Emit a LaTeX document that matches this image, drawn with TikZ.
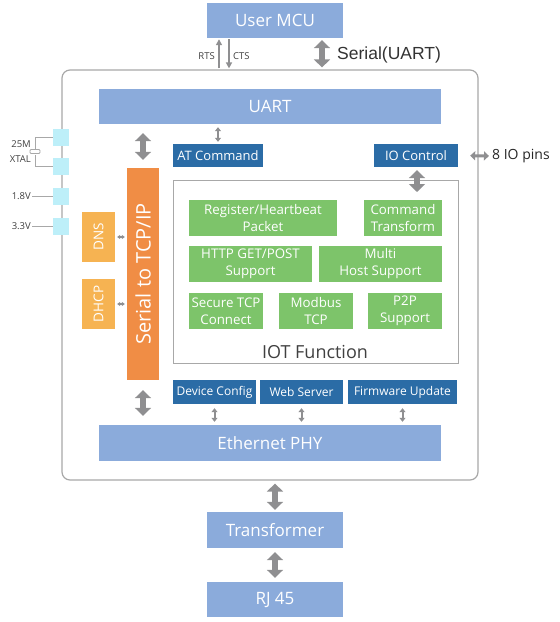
\documentclass[tikz,border=0pt]{standalone}
\usepackage{fontspec}
\setmainfont{Open Sans}
\newfontfamily\arialfont{Liberation Sans}
\usetikzlibrary{arrows.meta}

\definecolor{barblue}{HTML}{8BABDB}
\definecolor{darkblue}{HTML}{2B6CA6}
\definecolor{leafgreen}{HTML}{7DC46A}
\definecolor{lightorange}{HTML}{F6B352}
\definecolor{deeporange}{HTML}{F08D45}
\definecolor{pincyan}{HTML}{BDEFF9}
\definecolor{arrowgray}{HTML}{8F8F91}
\definecolor{framegray}{HTML}{A8A8A8}

\tikzset{
  bar/.style={fill=barblue, text=white, inner sep=0pt, minimum width=136pt,
    minimum height=35pt, font=\fontsize{17}{20}\selectfont},
  cmdbox/.style={fill=darkblue, text=white, inner sep=0pt, minimum height=23pt,
    font=\fontsize{12}{14}\selectfont},
  funcbox/.style={fill=leafgreen, text=white, inner sep=0pt, minimum height=36pt,
    align=center, font=\fontsize{13.3}{17}\selectfont},
  sidebox/.style={fill=lightorange, text=white, inner sep=0pt, rotate=90,
    minimum width=50pt, minimum height=33pt, font=\fontsize{13.5}{15}\selectfont},
  pinbox/.style={fill=pincyan, inner sep=0pt, minimum width=16pt, minimum height=17pt},
  pinlabel/.style={text=black!75, inner sep=1pt, align=right, font=\fontsize{9.5}{15}\selectfont},
  bigarrow/.style={draw=arrowgray, line width=6pt,
    {Triangle[length=8pt,width=16pt]}-{Triangle[length=8pt,width=16pt]}},
  smallarrow/.style={draw=arrowgray, line width=2pt,
    {Triangle[length=4pt,width=6pt]}-{Triangle[length=4pt,width=6pt]}},
  sigarrow/.style={draw=arrowgray, line width=2pt, -{Triangle[length=6pt,width=6pt]}}
}

\begin{document}
\begin{tikzpicture}[x=1pt, y=-1pt]
    \useasboundingbox (0,0) rectangle (560,622);

    % Module frame
    \node[draw=framegray, line width=1.2pt, rounded corners=8pt, minimum width=416pt,
      minimum height=410pt] (module) at (270,275) {};

    % Host side
    \node[bar] (mcu) at (275,20.5) {User MCU};
    \coordinate (rts) at (219,0);
    \coordinate (cts) at (229,0);
    \coordinate (ser) at (322,0);
    \draw[sigarrow, shorten <=1pt, shorten >=1pt] (module.north -| rts) -- (mcu.south -| rts);
    \draw[sigarrow, shorten <=1pt, shorten >=1pt] (mcu.south -| cts) -- (module.north -| cts);
    \node[pinlabel, anchor=east] (rtslbl) at (216,56) {RTS};
    \node[pinlabel, anchor=west] (ctslbl) at (232,56) {CTS};
    \draw[bigarrow, shorten <=2pt, shorten >=2pt] (mcu.south -| ser) -- (module.north -| ser);
    \node[anchor=west, inner sep=0pt, text=black!80, font=\arialfont\fontsize{17.5}{20}\selectfont]
      (serlbl) at (337,55) {Serial(UART)};

    % Bars inside the module
    \node[bar, minimum width=342pt] (uart) at (270,106.5) {UART};
    \node[bar, minimum width=342pt, minimum height=36pt] (phy) at (270,443) {Ethernet PHY};

    % Serial to TCP/IP stack
    \node[fill=deeporange, text=white, inner sep=0pt, rotate=90, minimum width=212pt,
      minimum height=32pt, font=\fontsize{20}{22}\selectfont] (tcp) at (143,274) {Serial to TCP/IP};
    \node[sidebox] (dns) at (98.5,237) {DNS};
    \node[sidebox] (dhcp) at (98.5,304) {DHCP};
    \draw[draw=arrowgray, line width=1.5pt, {Triangle[length=3pt,width=4pt]}-{Triangle[length=3pt,width=4pt]},
      shorten <=2pt, shorten >=2pt] (dns.south) -- (dns.south -| tcp.north);
    \draw[draw=arrowgray, line width=1.5pt, {Triangle[length=3pt,width=4pt]}-{Triangle[length=3pt,width=4pt]},
      shorten <=2pt, shorten >=2pt] (dhcp.south) -- (dhcp.south -| tcp.north);
    \draw[bigarrow, shorten <=9pt, shorten >=8pt] (uart.south -| tcp) -- (tcp.east);
    \draw[bigarrow, shorten <=10pt, shorten >=9pt] (tcp.west) -- (phy.north -| tcp);

    % Command boxes
    \node[cmdbox, minimum width=90pt, font=\fontsize{13}{15}\selectfont] (atcmd) at (218,155.5) {AT Command};
    \node[cmdbox, minimum width=84pt, font=\fontsize{13}{15}\selectfont] (ioctl) at (416,155.5) {IO Control};
    \draw[smallarrow, shorten <=3pt, shorten >=2pt] (uart.south -| atcmd) -- (atcmd.north);
    \node[anchor=west, inner sep=0pt, text=black!85, font=\fontsize{14}{16}\selectfont]
      (pins) at (492,156) {8 IO pins};
    \draw[draw=arrowgray, line width=3pt, {Triangle[length=5pt,width=9pt]}-{Triangle[length=5pt,width=9pt]},
      shorten <=12pt, shorten >=3pt] (ioctl.east) -- (pins.west);

    % IOT function block
    \node[draw=framegray, fill=white, line width=1pt, inner sep=0pt, minimum width=285pt,
      minimum height=183pt] (iot) at (315.5,271.5) {};
    \coordinate (iolink) at (417,192);
    \draw[bigarrow, shorten <=3pt] (ioctl.south -| iolink) -- (iolink);
    \node[funcbox, minimum width=148pt] (regpkt) at (263,218) {Register/Heartbeat\\Packet};
    \node[funcbox, minimum width=78pt] (cmdtf) at (403,218) {Command\\Transform};
    \node[funcbox, minimum width=123pt] (http) at (250.5,264) {HTTP GET/POST\\Support};
    \node[funcbox, minimum width=123pt] (multi) at (380.5,264) {Multi\\Host Support};
    \node[funcbox, minimum width=74pt] (sectcp) at (226,311) {Secure TCP\\Connect};
    \node[funcbox, minimum width=74pt] (modbus) at (316,311) {Modbus\\TCP};
    \node[funcbox, minimum width=74pt] (p2p) at (405,311) {P2P\\Support};
    \node[text=black!75, inner sep=0pt, font=\fontsize{18}{20}\selectfont] (iotlbl) at (315,352) {IOT Function};

    % Config services
    \node[cmdbox, minimum width=83pt, minimum height=24pt] (devcfg) at (214.5,392) {Device Config};
    \node[cmdbox, minimum width=83pt, minimum height=24pt] (websrv) at (301.5,392) {Web Server};
    \node[cmdbox, minimum width=109pt, minimum height=24pt] (fwupd) at (402.5,392) {Firmware Update};
    \foreach \svc in {devcfg, websrv, fwupd} {
        \draw[smallarrow, shorten <=4pt, shorten >=3pt] (\svc.south) -- (\svc.south |- phy.north);
    }

    % Pins on the left edge
    \foreach \y/\name in {137/xa, 166/xb, 196/vlo, 226/vhi} {
        \node[pinbox] (\name) at (61,\y) {};
    }
    \coordinate (xtal) at (35,151.5);
    \draw[framegray, line width=1pt] (xa.west) -- (xa.west -| xtal) -- ([yshift=3pt]xtal);
    \draw[framegray, line width=1pt] (xb.west) -- (xb.west -| xtal) -- ([yshift=-3pt]xtal);
    \draw[framegray, line width=0.8pt, fill=white, rounded corners=1pt]
      ([xshift=-5pt,yshift=2pt]xtal) rectangle ([xshift=5pt,yshift=-2pt]xtal);
    \node[pinlabel, anchor=east] (xtallbl) at (32,151.5) {25M\\XTAL};
    \node[pinlabel, anchor=east] (vlolbl) at (32,196) {1.8V};
    \node[pinlabel, anchor=east] (vhilbl) at (32,226) {3.3V};
    \draw[framegray, line width=1pt] (vlolbl.east) -- (vlo.west);
    \draw[framegray, line width=1pt] (vhilbl.east) -- (vhi.west);

    % Network side
    \node[bar, minimum height=36pt] (trans) at (275,530) {Transformer};
    \node[bar] (rj45) at (275,599.5) {RJ 45};
    \draw[bigarrow, shorten <=3pt, shorten >=2pt] (module.south -| trans) -- (trans.north);
    \draw[bigarrow, shorten <=4pt, shorten >=4pt] (trans.south) -- (rj45.north);
\end{tikzpicture}
\end{document}
